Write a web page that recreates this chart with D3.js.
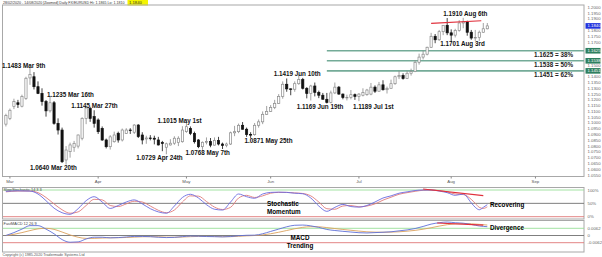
<!DOCTYPE html>
<html>
<head>
<meta charset="utf-8">
<script src="https://cdn.jsdelivr.net/npm/d3@7"></script>
<style>
body { margin: 0; background: #fff; }
svg { display: block; font-family: "Liberation Sans", Arial, sans-serif; }
</style>
</head>
<body>
<svg id="chart" width="602" height="257"></svg>
<script>
// daily EUR/USD candles, 28 Feb 2020 .. 14 Aug 2020 (index = trading day)
var open = [1.0990,1.1040,1.1142,1.1175,1.1145,1.1213,1.1390,1.1400,1.1314,1.1256,1.1185,1.1105,1.1175,1.0997,1.0939,1.0680,1.0752,1.0790,1.0800,1.0868,
    1.1040,1.1127,1.1055,1.1026,1.0953,1.0853,1.0795,1.0838,1.0911,1.0853,1.0910,1.0939,1.0920,1.0982,1.0896,1.0862,1.0870,1.0868,1.0853,1.0830,
    1.0790,1.0810,1.0825,1.0830,1.0838,1.0925,1.0953,1.0910,1.0853,1.0795,1.0833,1.0839,1.0808,1.0849,1.0818,1.0805,1.0818,1.0915,1.0925,1.0980,
    1.0946,1.0900,1.0899,1.0980,1.1010,1.1075,1.1100,1.1135,1.1170,1.1230,1.1335,1.1295,1.1292,1.1340,1.1375,1.1300,1.1255,1.1320,1.1265,1.1240,
    1.1205,1.1178,1.1260,1.1310,1.1250,1.1220,1.1222,1.1245,1.1230,1.1240,1.1245,1.1250,1.1310,1.1275,1.1330,1.1288,1.1300,1.1340,1.1400,1.1410,
    1.1385,1.1430,1.1445,1.1525,1.1570,1.1595,1.1655,1.1750,1.1720,1.1790,1.1845,1.1780,1.1760,1.1800,1.1865,1.1875,1.1785,1.1735,1.1740,1.1785,1.1815];
var high = [1.1080,1.1125,1.1210,1.1200,1.1245,1.1400,1.1483,1.1440,1.1360,1.1300,1.1199,1.1235,1.1190,1.1040,1.0960,1.0800,1.0830,1.0845,1.0900,1.1050,
    1.1145,1.1140,1.1110,1.1040,1.0970,1.0865,1.0895,1.0925,1.0925,1.0952,1.0955,1.0955,1.0990,1.0990,1.0920,1.0890,1.0895,1.0890,1.0880,1.0845,
    1.0830,1.0860,1.0885,1.0885,1.0972,1.1015,1.0970,1.0925,1.0860,1.0840,1.0875,1.0870,1.0875,1.0880,1.0830,1.0830,1.0925,1.0975,1.0995,1.1008,
    1.0960,1.0920,1.1000,1.1030,1.1100,1.1147,1.1155,1.1200,1.1250,1.1360,1.1385,1.1300,1.1360,1.1419,1.1390,1.1310,1.1330,1.1350,1.1280,1.1260,
    1.1260,1.1280,1.1350,1.1320,1.1255,1.1245,1.1285,1.1255,1.1258,1.1300,1.1295,1.1346,1.1325,1.1355,1.1370,1.1315,1.1375,1.1410,1.1450,1.1430,
    1.1450,1.1470,1.1545,1.1600,1.1625,1.1660,1.1780,1.1770,1.1805,1.1845,1.1908,1.1810,1.1815,1.1890,1.1910,1.1885,1.1805,1.1805,1.1800,1.1865,1.1865];
var low = [1.0970,1.1025,1.1120,1.1130,1.1135,1.1200,1.1330,1.1290,1.1250,1.1150,1.1055,1.1090,1.0985,1.0900,1.0654,1.0640,1.0700,1.0750,1.0780,1.0850,
    1.0990,1.1010,1.0960,1.0905,1.0845,1.0780,1.0770,1.0830,1.0830,1.0840,1.0905,1.0905,1.0905,1.0870,1.0815,1.0820,1.0850,1.0815,1.0805,1.0756,
    1.0729,1.0805,1.0811,1.0800,1.0830,1.0915,1.0895,1.0822,1.0782,1.0768,1.0815,1.0790,1.0805,1.0806,1.0775,1.0790,1.0810,1.0886,1.0912,1.0943,
    1.0880,1.0871,1.0890,1.0960,1.0990,1.1070,1.1095,1.1120,1.1165,1.1210,1.1270,1.1240,1.1270,1.1330,1.1290,1.1213,1.1195,1.1230,1.1215,1.1205,
    1.1169,1.1170,1.1250,1.1245,1.1205,1.1195,1.1205,1.1200,1.1189,1.1230,1.1235,1.1240,1.1260,1.1270,1.1280,1.1255,1.1300,1.1330,1.1380,1.1375,
    1.1380,1.1410,1.1440,1.1505,1.1550,1.1585,1.1650,1.1690,1.1710,1.1760,1.1760,1.1701,1.1740,1.1790,1.1820,1.1755,1.1720,1.1710,1.1710,1.1780,1.1810];
var close = [1.1065,1.1110,1.1185,1.1160,1.1230,1.1387,1.1420,1.1314,1.1256,1.1185,1.1105,1.1175,1.0997,1.0939,1.0665,1.0766,1.0810,1.0824,1.0896,1.1040,
    1.1130,1.1040,1.0997,1.0925,1.0853,1.0795,1.0880,1.0896,1.0853,1.0939,1.0939,1.0935,1.0982,1.0882,1.0853,1.0870,1.0866,1.0860,1.0810,1.0823,
    1.0820,1.0825,1.0868,1.0868,1.0939,1.0968,1.0910,1.0838,1.0795,1.0833,1.0839,1.0808,1.0849,1.0818,1.0805,1.0818,1.0915,1.0925,1.0980,1.0946,
    1.0900,1.0899,1.0980,1.1010,1.1075,1.1100,1.1135,1.1170,1.1230,1.1335,1.1295,1.1292,1.1340,1.1375,1.1300,1.1255,1.1320,1.1265,1.1240,1.1205,
    1.1178,1.1260,1.1310,1.1250,1.1220,1.1222,1.1245,1.1230,1.1250,1.1265,1.1285,1.1310,1.1275,1.1330,1.1288,1.1300,1.1340,1.1400,1.1410,1.1385,
    1.1430,1.1445,1.1525,1.1570,1.1595,1.1655,1.1750,1.1720,1.1790,1.1845,1.1780,1.1760,1.1800,1.1865,1.1875,1.1785,1.1735,1.1740,1.1785,1.1815,1.1840];

var monthLabels = ["Mar", "Apr", "May", "Jun", "Jul", "Aug", "Sep"];
var monthIdx = [1, 23, 45, 66, 88, 111, 132];

var priceTicks = ["1.2000","1.1950","1.1900","1.1850","1.1800","1.1750","1.1700","1.1650","1.1600","1.1550",
    "1.1500","1.1450","1.1400","1.1350","1.1300","1.1250","1.1200","1.1150","1.1100","1.1050",
    "1.1000","1.0950","1.0900","1.0850","1.0800","1.0750","1.0700","1.0650","1.0600","1.0550"];
var lastPrice = 1.1840;

// swing highs / lows written on the chart
var annIdx = [6, 11, 20, 15, 40, 45, 49, 61, 73, 80, 88, 114, 111];
var annPrice = [1.1483, 1.1235, 1.1145, 1.0640, 1.0729, 1.1015, 1.0768, 1.0871, 1.1419, 1.1169, 1.1189, 1.1910, 1.1701];
var annDate = ["Mar 9th", "Mar 16th", "Mar 27th", "Mar 20th", "Apr 24th", "May 1st", "May 7th", "May 25th", "Jun 10th", "Jun 19th", "Jul 1st", "Aug 6th", "Aug 3rd"];

// fibonacci retracement (Jun 19th low to Aug 6th high)
var fibLevels = [1.1625, 1.1538, 1.1451];
var fibNames = ["38%", "50%", "62%"];
var fibFromIdx = 80;

// trend line over the highs
var resIdx = [106, 118.5];
var resPrice = [1.1862, 1.1885];

// slow stochastic 14 3 3
var stochIdx = [0,3,6,8,10,12,14,16,18,20,22,24,26,28,30,32,34,36,38,40,42,44,46,48,50,52,54,56,58,60,
    62,64,66,68,70,72,74,76,78,80,82,84,86,88,90,92,94,96,98,100,102,104,106,108,110,112,114,116,117,118,119,120];
var stochK = [95,97,96,85,60,32,15,9,30,60,75,55,31,42,55,63,48,30,18,13,40,72,84,70,45,28,25,55,85,75,
    69,85,91,92,91,88,86,70,40,20,35,46,38,36,42,55,70,78,88,93,98,100,100,96,90,80,85,52,35,26,35,45];
var stochD = [93,96,96,90,72,48,26,13,18,42,65,63,42,38,48,58,55,40,24,15,25,55,78,77,57,36,27,35,70,80,
    72,78,88,91,91,89,87,78,55,30,28,40,42,37,40,48,62,73,84,90,95,99,100,98,93,85,83,65,50,35,31,37];
var stochLineIdx = [104, 119];
var stochLineVal = [104, 79];

// fast MACD 12 26 9
var macdIdx = [0,2,4,6,8,10,12,14,16,18,20,22,24,26,28,30,32,34,36,38,40,42,44,46,48,50,52,54,56,58,60,
    62,64,66,68,70,72,74,76,78,80,82,84,86,88,90,92,94,96,98,100,102,104,106,108,110,112,114,116,118,120];
var macdLine = [0.0000,0.0025,0.0055,0.0085,0.0085,0.0055,0.0015,-0.0035,-0.0058,-0.0055,-0.0030,-0.0015,-0.0015,-0.0020,-0.0018,-0.0013,
    -0.0008,-0.0008,-0.0010,-0.0015,-0.0018,-0.0016,-0.0010,-0.0005,-0.0006,-0.0009,-0.0010,-0.0012,-0.0009,-0.0002,0.0002,
    0.0003,0.0015,0.0035,0.0055,0.0075,0.0088,0.0090,0.0083,0.0070,0.0052,0.0043,0.0036,0.0030,0.0024,0.0022,0.0025,0.0028,
    0.0032,0.0040,0.0048,0.0060,0.0078,0.0098,0.0110,0.0116,0.0110,0.0106,0.0095,0.0082,0.0076];
var macdSignal = [0.0000,0.0010,0.0025,0.0042,0.0057,0.0062,0.0053,0.0030,0.0005,-0.0015,-0.0025,-0.0025,-0.0022,-0.0020,-0.0019,-0.0017,
    -0.0014,-0.0011,-0.0010,-0.0011,-0.0014,-0.0015,-0.0013,-0.0010,-0.0008,-0.0008,-0.0009,-0.0010,-0.0010,-0.0007,-0.0003,
    0.0000,0.0005,0.0015,0.0028,0.0043,0.0058,0.0070,0.0076,0.0075,0.0068,0.0060,0.0052,0.0045,0.0038,0.0032,0.0029,0.0028,
    0.0029,0.0032,0.0037,0.0044,0.0054,0.0067,0.0081,0.0093,0.0100,0.0103,0.0101,0.0096,0.0090];
var macdLineIdx = [107.5, 119];
var macdLineVal = [0.0107, 0.0089];

var svg = d3.select("#chart");

var x = d3.scaleLinear().domain([0, 120]).range([5.9, 487.3]);
var yP = d3.scaleLinear().domain([1.055, 1.2]).range([175, 7.4]);
var yS = d3.scaleLinear().domain([0, 100]).range([216.7, 190]);
var yM = d3.scaleLinear().domain([-0.0062, 0.0062]).range([242.7, 228.3]);

var L = 2, R = 584;
var axisX = 587.5;
var small = "4.3px";
var bold = "6.3px";

// header
svg.append("rect").attr("x", 127.5).attr("y", 0).attr("width", 20.5).attr("height", 5.5).attr("fill", "#f4f400");
svg.append("text").attr("x", 3).attr("y", 4.3).attr("font-size", "3.6px").attr("fill", "#333")
    .text("28/02/2020 - 14/08/2020 [Zoomed] Daily FX/EURUSD Hi: 1.1865 Lo: 1.1810");
svg.append("text").attr("x", 129).attr("y", 4.3).attr("font-size", "4.2px").attr("fill", "#333")
    .text(d3.format(".4f")(lastPrice));

// panel frames
var frame = svg.append("g").attr("fill", "none").attr("stroke", "#a8a8a8").attr("stroke-width", 1);
frame.append("rect").attr("x", L + 0.5).attr("y", 5).attr("width", R - L - 0.5).attr("height", 171.5);
frame.append("rect").attr("x", L + 0.5).attr("y", 187.5).attr("width", R - L - 0.5).attr("height", 31.5);
frame.append("rect").attr("x", L + 0.5).attr("y", 220.5).attr("width", R - L - 0.5).attr("height", 31.5);

// month axis
var months = svg.append("g");
months.selectAll("line").data(monthIdx).enter().append("line")
    .attr("x1", function(d) { return x(d); }).attr("x2", function(d) { return x(d); })
    .attr("y1", 176.5).attr("y2", 178.5).attr("stroke", "#888");
months.selectAll("text").data(monthLabels).enter().append("text")
    .attr("x", function(d, i) { return x(monthIdx[i]); }).attr("y", 182.5)
    .attr("text-anchor", "middle").attr("font-size", small).attr("fill", "#555")
    .text(function(d) { return d; });

// price axis (labels hidden where a marker box sits)
var marked = fibLevels.concat([lastPrice]);
var shownTicks = priceTicks.filter(function(t) {
    return marked.every(function(m) { return Math.abs(yP(+t) - yP(m)) > 3.2; });
});
svg.append("g").selectAll("text").data(shownTicks).enter().append("text")
    .attr("x", axisX).attr("y", function(d) { return yP(+d) + 1.5; })
    .attr("font-size", small).attr("fill", "#666")
    .text(function(d) { return d; });

// fibonacci lines
var fib = svg.append("g");
fib.selectAll("line").data(fibLevels).enter().append("line")
    .attr("x1", x(fibFromIdx)).attr("x2", R)
    .attr("y1", function(d) { return yP(d); }).attr("y2", function(d) { return yP(d); })
    .attr("stroke", "#74ab98").attr("stroke-width", 1.6);
fib.selectAll("text").data(fibLevels).enter().append("text")
    .attr("x", 573).attr("y", function(d) { return yP(d) + 6.2; })
    .attr("text-anchor", "end").attr("font-size", bold).attr("font-weight", "bold").attr("fill", "#222")
    .text(function(d, i) { return d3.format(".4f")(d) + " = " + fibNames[i]; });

// axis marker boxes
var boxes = fibLevels.map(function(v) { return { v: v, c: "#2f7f5f" }; })
    .concat([{ v: lastPrice, c: "#2233dd" }]);
var box = svg.append("g").selectAll("g").data(boxes).enter().append("g");
box.append("rect").attr("x", 585.5).attr("y", function(d) { return yP(d.v) - 2.8; })
    .attr("width", 15).attr("height", 5.6).attr("fill", function(d) { return d.c; });
box.append("text").attr("x", axisX).attr("y", function(d) { return yP(d.v) + 1.5; })
    .attr("font-size", small).attr("fill", "#fff")
    .text(function(d) { return d3.format(".4f")(d.v); });

// candles
var idx = d3.range(open.length);
var candles = svg.append("g").selectAll("g").data(idx).enter().append("g");
candles.append("line")
    .attr("x1", function(i) { return x(i); }).attr("x2", function(i) { return x(i); })
    .attr("y1", function(i) { return yP(high[i]); }).attr("y2", function(i) { return yP(low[i]); })
    .attr("stroke", function(i) { return close[i] >= open[i] ? "#8a8a8a" : "#111"; })
    .attr("stroke-width", 0.8);
candles.append("rect")
    .attr("x", function(i) { return x(i) - 1.1; }).attr("width", 2.2)
    .attr("y", function(i) { return yP(Math.max(open[i], close[i])); })
    .attr("height", function(i) { return Math.max(0.6, Math.abs(yP(open[i]) - yP(close[i]))); })
    .attr("fill", function(i) { return close[i] >= open[i] ? "#fff" : "#111"; })
    .attr("stroke", function(i) { return close[i] >= open[i] ? "#8a8a8a" : "#111"; })
    .attr("stroke-width", 0.7);

// trend line
svg.append("line")
    .attr("x1", x(resIdx[0])).attr("y1", yP(resPrice[0]))
    .attr("x2", x(resIdx[1])).attr("y2", yP(resPrice[1]))
    .attr("stroke", "#e0303c").attr("stroke-width", 1.1);

// swing labels
var annDx = [-28, -3, -15, -36, -30, -29, -17, -6, -25, -30, -6, -20, -11];
var annDy = [1.1, 1.5, 2.1, 5.7, 6, 2.1, 5.5, 5.4, 1, 5.9, 8.2, -1.5, 4.3];
svg.append("g").selectAll("text").data(annIdx).enter().append("text")
    .attr("x", function(d, i) { return x(d) + annDx[i]; })
    .attr("y", function(d, i) { return yP(annPrice[i]) + annDy[i]; })
    .attr("font-size", bold).attr("font-weight", "bold").attr("fill", "#111")
    .text(function(d, i) { return d3.format(".4f")(annPrice[i]) + " " + annDate[i]; });

// stochastic panel
var stochLevels = [100, 50, 0];
var levelColor = ["#98e098", "#707070", "#e07878"];
var sp = svg.append("g");
sp.selectAll("line").data(stochLevels).enter().append("line")
    .attr("x1", L + 1).attr("x2", R)
    .attr("y1", function(d) { return yS(d); }).attr("y2", function(d) { return yS(d); })
    .attr("stroke", function(d, i) { return levelColor[i]; }).attr("stroke-width", 0.9);
sp.selectAll("text").data(stochLevels).enter().append("text")
    .attr("x", axisX).attr("y", function(d) { return yS(d) + 1.5; })
    .attr("font-size", small).attr("fill", "#666")
    .text(function(d) { return d + "%"; });
sp.append("text").attr("x", 3.5).attr("y", 191.3).attr("font-size", "3.9px").attr("fill", "#444")
    .text("SlowStochastic 14 3 3");

var stochPath = function(vals) {
    return d3.line().curve(d3.curveMonotoneX)
        .x(function(d, i) { return x(stochIdx[i]); })
        .y(function(d) { return yS(d); })(vals);
};
sp.append("path").attr("d", stochPath(stochD)).attr("fill", "none").attr("stroke", "#e07a7a").attr("stroke-width", 0.9);
sp.append("path").attr("d", stochPath(stochK)).attr("fill", "none").attr("stroke", "#6a6ae0").attr("stroke-width", 0.9);
sp.append("line")
    .attr("x1", x(stochLineIdx[0])).attr("y1", yS(stochLineVal[0]))
    .attr("x2", x(stochLineIdx[1])).attr("y2", yS(stochLineVal[1]))
    .attr("stroke", "#e0303c").attr("stroke-width", 1.1);
sp.append("text").attr("x", 267).attr("y", 206.3).attr("font-size", bold).attr("font-weight", "bold").text("Stochastic");
sp.append("text").attr("x", 267).attr("y", 213.8).attr("font-size", bold).attr("font-weight", "bold").text("Momentum");
sp.append("text").attr("x", 490).attr("y", 207.3).attr("font-size", bold).attr("font-weight", "bold").text("Recovering");

// macd panel
var macdLevels = [0.0062, 0, -0.0062];
var macdLabels = ["0.0062", "0", "-0.0062"];
var mp = svg.append("g");
mp.selectAll("line").data(macdLevels).enter().append("line")
    .attr("x1", L + 1).attr("x2", R)
    .attr("y1", function(d) { return yM(d); }).attr("y2", function(d) { return yM(d); })
    .attr("stroke", function(d, i) { return levelColor[i]; }).attr("stroke-width", 0.9);
mp.selectAll("text").data(macdLabels).enter().append("text")
    .attr("x", axisX).attr("y", function(d, i) { return yM(macdLevels[i]) + 1.5; })
    .attr("font-size", small).attr("fill", "#666")
    .text(function(d) { return d; });
mp.append("text").attr("x", 3.5).attr("y", 224.6).attr("font-size", "3.9px").attr("fill", "#444")
    .text("FastMACD 12 26 9");

var macdPath = function(vals) {
    return d3.line().curve(d3.curveMonotoneX)
        .x(function(d, i) { return x(macdIdx[i]); })
        .y(function(d) { return yM(d); })(vals);
};
mp.append("path").attr("d", macdPath(macdSignal)).attr("fill", "none").attr("stroke", "#dba25e").attr("stroke-width", 0.9);
mp.append("path").attr("d", macdPath(macdLine)).attr("fill", "none").attr("stroke", "#5f6fd8").attr("stroke-width", 0.9);
mp.append("line")
    .attr("x1", x(macdLineIdx[0])).attr("y1", yM(macdLineVal[0]))
    .attr("x2", x(macdLineIdx[1])).attr("y2", yM(macdLineVal[1]))
    .attr("stroke", "#e0303c").attr("stroke-width", 1.1);
mp.append("text").attr("x", 300).attr("y", 239.8).attr("text-anchor", "middle").attr("font-size", bold).attr("font-weight", "bold").text("MACD");
mp.append("text").attr("x", 300).attr("y", 248).attr("text-anchor", "middle").attr("font-size", bold).attr("font-weight", "bold").text("Trending");
mp.append("text").attr("x", 490).attr("y", 229.6).attr("font-size", bold).attr("font-weight", "bold").text("Divergence");

// footer
svg.append("text").attr("x", 2.5).attr("y", 256).attr("font-size", "3.7px").attr("fill", "#555")
    .text("Copyright (c) 1985-2020 Tradermade Systems Ltd");
</script>
</body>
</html>
